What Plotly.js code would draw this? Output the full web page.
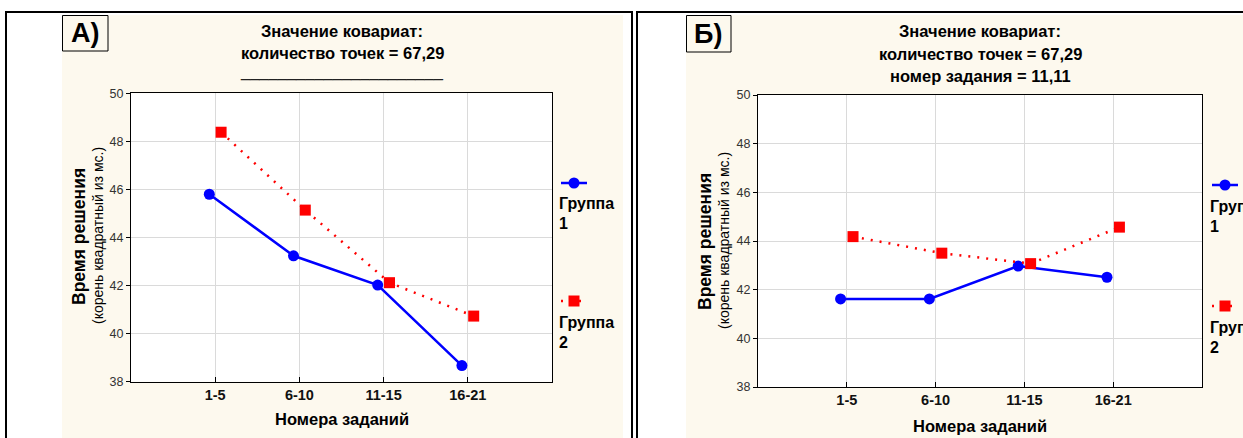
<!DOCTYPE html>
<html>
<head>
<meta charset="utf-8">
<script src="https://cdn.plot.ly/plotly-3.0.1.min.js"></script>
<style>html,body{margin:0;padding:0;background:#fff;}#chart{width:1243px;height:438px;}</style>
</head>
<body>
<div id="chart"></div>
<script>
// ---- data ----
const categories = ['1-5', '6-10', '11-15', '16-21'];
const groupNames = ['Группа 1', 'Группа 2'];
const panelA_group1 = [45.80, 43.24, 42.02, 38.67];
const panelA_group2 = [48.38, 45.14, 42.12, 40.73];
const panelB_group1 = [41.62, 41.62, 42.97, 42.51];
const panelB_group2 = [44.18, 43.50, 43.07, 44.57];
const yTickVals = [38, 40, 42, 44, 46, 48, 50];
const rightTicksA = [39.5, 41, 42.5, 44, 45.5, 47, 48.5];
const rightTicksB = [39, 41, 43, 45, 47, 49];
const panelLabels = ['А)', 'Б)'];
const titleA = ['Значение ковариат:', 'количество точек = 67,29', '______________________'];
const titleB = ['Значение ковариат:', 'количество точек = 67,29', 'номер задания = 11,11'];
const yTitle = 'Время решения';
const ySubTitle = '(корень квадратный из мс.)';
const xTitle = 'Номера заданий';

// ---- helpers (pixel -> paper) ----
const W = 1243, H = 438;
const px = v => v / W;
const py = v => 1 - v / H;
const FONT = 'Liberation Sans, Arial, sans-serif';
const CREAM = '#FDF9EE';
const BLUE = '#0000FF', RED = '#FF0000';
const catIdx = categories.map((c, i) => i);

function mkTraces(g1, g2, xa, ya) {
  return [
    {x: categories, y: g1, xaxis: xa, yaxis: ya, name: groupNames[0], type: 'scatter',
     mode: 'lines+markers', offsetgroup: 'g1', showlegend: false, cliponaxis: false,
     line: {color: BLUE, width: 2.5}, marker: {symbol: 'circle', size: 11, color: BLUE}},
    {x: categories, y: g2, xaxis: xa, yaxis: ya, name: groupNames[1], type: 'scatter',
     mode: 'lines+markers', offsetgroup: 'g2', showlegend: false, cliponaxis: false,
     line: {color: RED, width: 2.5, dash: '2px,7px'}, marker: {symbol: 'square', size: 11, color: RED}}
  ];
}

const data = [
  ...mkTraces(panelA_group1, panelA_group2, 'x', 'y'),
  ...mkTraces(panelB_group1, panelB_group2, 'x2', 'y2')
];

function xAxis(dom, anchor) {
  return {domain: dom, anchor: anchor, type: 'category', range: [-1, categories.length],
    showgrid: true, gridcolor: '#dadada', gridwidth: 1, zeroline: false,
    showline: true, linecolor: '#000', linewidth: 1, mirror: true,
    ticks: 'inside', ticklen: 5, tickcolor: '#000', ticklabelstandoff: 0,
    tickfont: {family: FONT, size: 14.5, color: '#111', weight: 'bold'}, fixedrange: true};
}
function yAxis(dom, anchor) {
  return {domain: dom, anchor: anchor, range: [38, 50], tickvals: yTickVals,
    showgrid: true, gridcolor: '#dadada', gridwidth: 1, zeroline: false,
    showline: true, linecolor: '#000', linewidth: 1, mirror: true,
    ticks: 'outside', ticklen: 4, tickcolor: '#000',
    tickfont: {family: FONT, size: 12.5, color: '#333'}, fixedrange: true};
}
function topAxis(over, anchor) {
  return {overlaying: over, anchor: anchor, side: 'top', range: [-1, categories.length],
    tickvals: catIdx, ticks: 'inside', ticklen: 5, tickcolor: '#000',
    showticklabels: false, showgrid: false, zeroline: false, showline: false, fixedrange: true};
}
function rightAxis(over, anchor, tv) {
  return {overlaying: over, anchor: anchor, side: 'right', range: [38, 50],
    tickvals: tv, ticks: 'inside', ticklen: 4, tickcolor: '#000',
    showticklabels: false, showgrid: false, zeroline: false, showline: false, fixedrange: true};
}

const plotA = {l: 131, r: 552, t: 93.3, b: 381.7};
const plotB = {l: 758, r: 1202, t: 95, b: 387};

const shapes = [
  // cream backgrounds
  {type: 'rect', xref: 'paper', yref: 'paper', layer: 'below', x0: px(62), x1: px(623), y0: py(15), y1: py(445), fillcolor: CREAM, line: {width: 0}},
  {type: 'rect', xref: 'paper', yref: 'paper', layer: 'below', x0: px(686), x1: px(1250), y0: py(15), y1: py(445), fillcolor: CREAM, line: {width: 0}},
  // white plot areas
  {type: 'rect', xref: 'paper', yref: 'paper', layer: 'below', x0: px(plotA.l), x1: px(plotA.r), y0: py(plotA.b), y1: py(plotA.t), fillcolor: '#fff', line: {width: 0}},
  {type: 'rect', xref: 'paper', yref: 'paper', layer: 'below', x0: px(plotB.l), x1: px(plotB.r), y0: py(plotB.b), y1: py(plotB.t), fillcolor: '#fff', line: {width: 0}},
  // panel borders
  {type: 'rect', xref: 'paper', yref: 'paper', x0: px(6), x1: px(632), y0: py(12), y1: py(460), line: {color: '#000', width: 2}},
  {type: 'rect', xref: 'paper', yref: 'paper', x0: px(637), x1: px(1270), y0: py(12), y1: py(460), line: {color: '#000', width: 2}},
  // label boxes
  {type: 'rect', xref: 'paper', yref: 'paper', x0: px(62.5), x1: px(108), y0: py(51), y1: py(15.5), line: {color: '#000', width: 1}},
  {type: 'rect', xref: 'paper', yref: 'paper', x0: px(686.5), x1: px(731), y0: py(52), y1: py(15.5), line: {color: '#000', width: 1}}
];

// legend symbols
function legendSymbols(cx, y1, y2) {
  const r = 5.5;
  return [
    {type: 'line', xref: 'paper', yref: 'paper', x0: px(cx - 13), x1: px(cx + 13), y0: py(y1), y1: py(y1), line: {color: BLUE, width: 2.5}},
    {type: 'circle', xref: 'paper', yref: 'paper', x0: px(cx - r), x1: px(cx + r), y0: py(y1 + r), y1: py(y1 - r), fillcolor: BLUE, line: {color: BLUE, width: 0}},
    {type: 'line', xref: 'paper', yref: 'paper', x0: px(cx - 13), x1: px(cx + 13), y0: py(y2), y1: py(y2), line: {color: RED, width: 2.5, dash: '2px,7px'}},
    {type: 'rect', xref: 'paper', yref: 'paper', x0: px(cx - r), x1: px(cx + r), y0: py(y2 + r), y1: py(y2 - r), fillcolor: RED, line: {color: RED, width: 0}}
  ];
}
shapes.push(...legendSymbols(574, 183, 301));
shapes.push(...legendSymbols(1225, 185, 306));

const bold = s => ({family: FONT, size: s, color: '#000', weight: 'bold'});
function ann(text, x, y, opts) {
  return Object.assign({text: text, xref: 'paper', yref: 'paper', x: px(x), y: py(y),
    xanchor: 'center', yanchor: 'middle', showarrow: false, font: bold(16.5)}, opts || {});
}
const annotations = [
  ann(panelLabels[0], 85, 33, {font: bold(27)}),
  ann(panelLabels[1], 708, 34, {font: bold(27)}),
  ann(titleA[0], 342, 31), ann(titleA[1], 342, 53),
  ann(titleA[2], 342, 71, {font: {family: FONT, size: 16.5, color: '#222'}}),
  ann(titleB[0], 980, 31), ann(titleB[1], 980, 54), ann(titleB[2], 980, 76),
  ann(yTitle, 79, 237, {textangle: -90, font: bold(17.5)}),
  ann(ySubTitle, 98, 236, {textangle: -90, font: {family: FONT, size: 14, color: '#000'}}),
  ann(yTitle, 705, 242, {textangle: -90, font: bold(17.5)}),
  ann(ySubTitle, 724, 241, {textangle: -90, font: {family: FONT, size: 14, color: '#000'}}),
  ann(xTitle, 342, 419), ann(xTitle, 980, 426)
];
function legendText(x, ys, name) {
  const parts = name.split(' ');
  return parts.map((p, i) => ann(p, x, ys[i], {xanchor: 'left', font: bold(16)}));
}
annotations.push(...legendText(557, [203, 223], groupNames[0]));
annotations.push(...legendText(557, [322, 342], groupNames[1]));
annotations.push(...legendText(1208, [206, 226], groupNames[0]));
annotations.push(...legendText(1208, [327, 347], groupNames[1]));

const layout = {
  width: W, height: H,
  margin: {l: 0, r: 0, t: 0, b: 0, pad: 0},
  paper_bgcolor: '#fff', plot_bgcolor: '#fff',
  showlegend: false,
  scattermode: 'group', scattergap: 0.72,
  font: {family: FONT},
  xaxis: xAxis([px(plotA.l), px(plotA.r)], 'y'),
  yaxis: yAxis([py(plotA.b), py(plotA.t)], 'x'),
  xaxis2: xAxis([px(plotB.l), px(plotB.r)], 'y2'),
  yaxis2: yAxis([py(plotB.b), py(plotB.t)], 'x2'),
  xaxis3: topAxis('x', 'y'),
  yaxis3: rightAxis('y', 'x', rightTicksA),
  xaxis4: topAxis('x2', 'y2'),
  yaxis4: rightAxis('y2', 'x2', rightTicksB),
  shapes: shapes,
  annotations: annotations
};

Plotly.newPlot('chart', data, layout, {staticPlot: true, displayModeBar: false});
</script>
</body>
</html>
